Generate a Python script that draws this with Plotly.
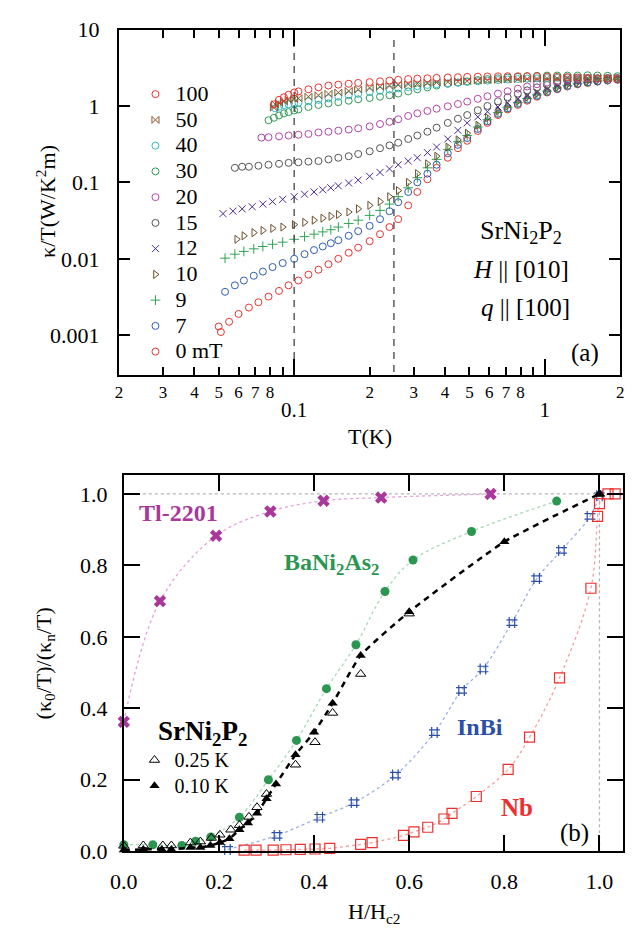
import math
import plotly.graph_objects as go

# ---------------- Panel (a): kappa/T vs T for several fields ----------------
T_100 = [0.083, 0.087, 0.091, 0.095, 0.1, 0.104, 0.114, 0.125, 0.137, 0.15, 0.165, 0.18, 0.2, 0.22, 0.24, 0.26, 0.285, 0.31, 0.34, 0.37, 0.41, 0.45, 0.49, 0.54, 0.59, 0.65, 0.71, 0.78, 0.85, 0.93, 1.02, 1.12, 1.23, 1.35, 1.48, 1.62, 1.78, 1.95]
K_100 = [1.05, 1.2, 1.3, 1.4, 1.5, 1.55, 1.65, 1.75, 1.85, 1.9, 1.95, 2.0, 2.05, 2.1, 2.15, 2.2, 2.25, 2.28, 2.3, 2.33, 2.36, 2.38, 2.4, 2.42, 2.43, 2.44, 2.45, 2.45, 2.45, 2.44, 2.42, 2.4, 2.38, 2.35, 2.32, 2.3, 2.28, 2.25]

T_50 = [0.083, 0.084, 0.087, 0.091, 0.095, 0.1, 0.104, 0.114, 0.125, 0.137, 0.15, 0.165, 0.18, 0.2, 0.22, 0.24, 0.26, 0.285, 0.31, 0.34, 0.37, 0.41, 0.45, 0.49, 0.54, 0.59, 0.65, 0.71, 0.78, 0.85, 0.93, 1.02, 1.12, 1.23, 1.35, 1.48, 1.62, 1.78, 1.95]
K_50 = [0.95, 1.05, 1.1, 1.15, 1.2, 1.23, 1.26, 1.32, 1.38, 1.44, 1.5, 1.57, 1.64, 1.72, 1.78, 1.83, 1.88, 1.92, 1.96, 2.0, 2.03, 2.06, 2.09, 2.12, 2.15, 2.18, 2.2, 2.22, 2.24, 2.26, 2.28, 2.3, 2.3, 2.32, 2.32, 2.32, 2.32, 2.3, 2.3]

T_40 = [0.084, 0.087, 0.091, 0.095, 0.1, 0.104, 0.114, 0.125, 0.137, 0.15, 0.165, 0.18, 0.2, 0.22, 0.24, 0.26, 0.285, 0.31, 0.34, 0.37, 0.41, 0.45, 0.49, 0.54, 0.59, 0.65, 0.71, 0.78, 0.85, 0.93, 1.02, 1.12, 1.23, 1.35, 1.48, 1.62, 1.78, 1.95]
K_40 = [0.93, 0.98, 1.02, 1.05, 1.08, 1.1, 1.15, 1.2, 1.26, 1.32, 1.38, 1.44, 1.52, 1.58, 1.64, 1.7, 1.76, 1.82, 1.88, 1.93, 1.98, 2.02, 2.06, 2.1, 2.14, 2.18, 2.22, 2.25, 2.28, 2.3, 2.32, 2.33, 2.33, 2.33, 2.32, 2.3, 2.3, 2.28]

T_30 = [0.079, 0.083, 0.087, 0.091, 0.095, 0.1, 0.104, 0.114, 0.125, 0.137, 0.15, 0.165, 0.18, 0.2, 0.22, 0.24, 0.26, 0.285, 0.31, 0.34, 0.37, 0.41, 0.45, 0.49, 0.54, 0.59, 0.65, 0.71, 0.78, 0.85, 0.93, 1.02, 1.12, 1.23, 1.35, 1.48, 1.62, 1.78, 1.95]
K_30 = [0.65, 0.7, 0.75, 0.8, 0.83, 0.87, 0.9, 0.97, 1.03, 1.08, 1.12, 1.17, 1.22, 1.27, 1.32, 1.38, 1.45, 1.55, 1.65, 1.75, 1.85, 1.95, 2.02, 2.1, 2.18, 2.25, 2.3, 2.35, 2.4, 2.45, 2.48, 2.5, 2.5, 2.5, 2.5, 2.52, 2.5, 2.48, 2.45]

T_20 = [0.074, 0.079, 0.087, 0.095, 0.104, 0.114, 0.125, 0.137, 0.15, 0.165, 0.18, 0.2, 0.22, 0.24, 0.26, 0.285, 0.31, 0.34, 0.37, 0.41, 0.45, 0.49, 0.54, 0.59, 0.65, 0.71, 0.78, 0.85, 0.93, 1.02, 1.12, 1.23, 1.35, 1.48, 1.62, 1.78, 1.95]
K_20 = [0.385, 0.39, 0.4, 0.41, 0.42, 0.43, 0.45, 0.46, 0.475, 0.49, 0.51, 0.54, 0.58, 0.62, 0.67, 0.74, 0.8, 0.86, 0.92, 0.99, 1.06, 1.14, 1.24, 1.34, 1.45, 1.56, 1.68, 1.8, 1.92, 2.02, 2.12, 2.2, 2.25, 2.3, 2.3, 2.32, 2.32]

T_15 = [0.058, 0.062, 0.066, 0.072, 0.079, 0.087, 0.095, 0.104, 0.114, 0.125, 0.137, 0.15, 0.165, 0.18, 0.2, 0.22, 0.24, 0.26, 0.285, 0.31, 0.34, 0.37, 0.41, 0.45, 0.49, 0.54, 0.59, 0.65, 0.71, 0.78, 0.85, 0.93, 1.02, 1.12, 1.23, 1.35, 1.48, 1.62, 1.78, 1.95]
K_15 = [0.155, 0.16, 0.16, 0.165, 0.17, 0.175, 0.18, 0.183, 0.187, 0.19, 0.2, 0.21, 0.22, 0.235, 0.255, 0.28, 0.305, 0.33, 0.37, 0.41, 0.46, 0.52, 0.6, 0.68, 0.76, 0.88, 1.0, 1.15, 1.3, 1.45, 1.6, 1.75, 1.88, 2.0, 2.1, 2.18, 2.25, 2.28, 2.3, 2.3]

T_12 = [0.052, 0.057, 0.062, 0.068, 0.075, 0.082, 0.09, 0.1, 0.11, 0.12, 0.13, 0.14, 0.15, 0.165, 0.18, 0.2, 0.22, 0.24, 0.26, 0.285, 0.31, 0.34, 0.37, 0.41, 0.45, 0.49, 0.54, 0.59, 0.65, 0.71, 0.78, 0.85, 0.93, 1.02, 1.12, 1.23, 1.35, 1.48, 1.62, 1.78, 1.95]
K_12 = [0.039, 0.042, 0.045, 0.048, 0.052, 0.056, 0.06, 0.065, 0.07, 0.075, 0.08, 0.085, 0.09, 0.098, 0.107, 0.12, 0.135, 0.15, 0.17, 0.19, 0.21, 0.245, 0.29, 0.37, 0.48, 0.6, 0.72, 0.84, 0.97, 1.1, 1.23, 1.36, 1.5, 1.65, 1.82, 1.98, 2.1, 2.2, 2.25, 2.28, 2.3]

T_10 = [0.059, 0.063, 0.069, 0.075, 0.082, 0.09, 0.1, 0.11, 0.12, 0.13, 0.14, 0.15, 0.165, 0.18, 0.2, 0.22, 0.24, 0.26, 0.285, 0.31, 0.34, 0.37, 0.41, 0.45, 0.49, 0.54, 0.59, 0.65, 0.71, 0.78, 0.85, 0.93, 1.02, 1.12, 1.23, 1.35, 1.48, 1.62, 1.78, 1.95]
K_10 = [0.018, 0.02, 0.022, 0.0235, 0.025, 0.026, 0.028, 0.03, 0.032, 0.034, 0.036, 0.038, 0.041, 0.045, 0.05, 0.056, 0.065, 0.078, 0.1, 0.13, 0.175, 0.22, 0.29, 0.36, 0.44, 0.56, 0.7, 0.86, 1.0, 1.15, 1.3, 1.45, 1.6, 1.76, 1.9, 2.02, 2.1, 2.16, 2.22, 2.28]

T_9 = [0.053, 0.058, 0.063, 0.069, 0.075, 0.082, 0.09, 0.1, 0.11, 0.12, 0.13, 0.14, 0.15, 0.165, 0.18, 0.2, 0.22, 0.24, 0.26, 0.285, 0.31, 0.34, 0.37, 0.41, 0.45, 0.49, 0.54, 0.59, 0.65, 0.71, 0.78, 0.85, 0.93, 1.02, 1.12, 1.23, 1.35, 1.48, 1.62, 1.78, 1.95]
K_9 = [0.0102, 0.0115, 0.0125, 0.0135, 0.0145, 0.0155, 0.0165, 0.018, 0.0195, 0.021, 0.0225, 0.024, 0.026, 0.029, 0.032, 0.037, 0.043, 0.052, 0.065, 0.085, 0.115, 0.155, 0.2, 0.27, 0.34, 0.41, 0.53, 0.66, 0.82, 0.96, 1.1, 1.25, 1.4, 1.56, 1.72, 1.86, 1.98, 2.06, 2.12, 2.18, 2.24]

T_7 = [0.053, 0.058, 0.063, 0.069, 0.075, 0.082, 0.09, 0.1, 0.11, 0.12, 0.13, 0.14, 0.15, 0.165, 0.18, 0.2, 0.22, 0.24, 0.26, 0.285, 0.31, 0.34, 0.37, 0.41, 0.45, 0.49, 0.54, 0.59, 0.65, 0.71, 0.78, 0.85, 0.93, 1.02, 1.12, 1.23, 1.35, 1.48, 1.62, 1.78, 1.95]
K_7 = [0.0037, 0.0045, 0.0052, 0.006, 0.0068, 0.0078, 0.0088, 0.010, 0.0115, 0.013, 0.0145, 0.016, 0.0175, 0.02, 0.023, 0.027, 0.033, 0.042, 0.055, 0.075, 0.1, 0.13, 0.17, 0.24, 0.31, 0.38, 0.5, 0.63, 0.79, 0.93, 1.07, 1.21, 1.36, 1.53, 1.68, 1.83, 1.95, 2.03, 2.1, 2.17, 2.22]

T_0 = [0.05, 0.051, 0.055, 0.06, 0.066, 0.072, 0.079, 0.087, 0.095, 0.104, 0.114, 0.125, 0.137, 0.15, 0.165, 0.18, 0.2, 0.22, 0.24, 0.26, 0.285, 0.31, 0.34, 0.37, 0.41, 0.45, 0.49, 0.54, 0.59, 0.65, 0.71, 0.78, 0.85, 0.93, 1.02, 1.12, 1.23, 1.35, 1.48, 1.62, 1.78, 1.95]
K_0 = [0.0013, 0.0011, 0.0015, 0.0019, 0.0023, 0.0027, 0.0032, 0.0038, 0.0045, 0.0052, 0.0062, 0.0072, 0.0085, 0.010, 0.012, 0.014, 0.017, 0.021, 0.026, 0.033, 0.05, 0.075, 0.11, 0.155, 0.21, 0.28, 0.35, 0.47, 0.6, 0.76, 0.9, 1.03, 1.17, 1.32, 1.5, 1.65, 1.8, 1.92, 2.0, 2.08, 2.15, 2.2]

field_labels = ["100", "50", "40", "30", "20", "15", "12", "10", "9", "7", "0 mT"]

dash_T = [0.1, 0.25]
dash_K = [0.00033, 7.5]

xt_vals = [0.02, 0.03, 0.04, 0.05, 0.06, 0.07, 0.08, 0.2, 0.3, 0.4, 0.5, 0.6, 0.7, 0.8, 2]
xt_text = ["2", "3", "4", "5", "6", "7", "8", "2", "3", "4", "5", "6", "7", "8", "2"]
xt_unlabelled = [0.09, 0.9]
xt_decades = [0.1, 1]
xt_decade_text = ["0.1", "1"]
yt_vals = [0.001, 0.01, 0.1, 1, 10]
yt_text = ["0.001", "0.01", "0.1", "1", "10"]

# ---------------- Panel (b): normalized residual kappa0/T vs H/Hc2 ----------------
H_tl = [0.0, 0.076, 0.194, 0.308, 0.42, 0.541, 0.771]
V_tl = [0.362, 0.70, 0.883, 0.951, 0.981, 0.99, 1.0]

H_ba = [0.0, 0.061, 0.122, 0.151, 0.183, 0.243, 0.304, 0.363, 0.426, 0.488, 0.549, 0.608, 0.731, 0.91]
V_ba = [0.018, 0.018, 0.016, 0.028, 0.04, 0.095, 0.2, 0.31, 0.455, 0.578, 0.727, 0.815, 0.895, 0.98]

H_025 = [0.0, 0.041, 0.082, 0.1, 0.14, 0.161, 0.184, 0.202, 0.225, 0.243, 0.263, 0.28, 0.3, 0.361, 0.402, 0.439, 0.498, 0.6, 1.0]
V_025 = [0.015, 0.016, 0.016, 0.016, 0.024, 0.027, 0.037, 0.046, 0.06, 0.073, 0.096, 0.123, 0.16, 0.242, 0.305, 0.387, 0.496, 0.665, 1.0]

H_010 = [0.0, 0.041, 0.08, 0.1, 0.14, 0.161, 0.182, 0.202, 0.222, 0.243, 0.261, 0.28, 0.3, 0.32, 0.361, 0.4, 0.439, 0.498, 0.6, 0.8, 1.0]
V_010 = [0.003, 0.005, 0.005, 0.005, 0.01, 0.01, 0.016, 0.024, 0.035, 0.06, 0.079, 0.106, 0.147, 0.188, 0.27, 0.333, 0.414, 0.548, 0.67, 0.866, 1.0]

H_inbi = [0.218, 0.322, 0.412, 0.484, 0.571, 0.653, 0.71, 0.755, 0.816, 0.868, 0.92, 0.98, 1.0]
V_inbi = [0.005, 0.044, 0.095, 0.136, 0.213, 0.332, 0.45, 0.51, 0.64, 0.763, 0.842, 0.937, 0.995]

H_nb = [0.253, 0.278, 0.314, 0.341, 0.371, 0.402, 0.433, 0.498, 0.522, 0.588, 0.61, 0.639, 0.673, 0.69, 0.741, 0.808, 0.853, 0.916, 0.982, 0.996, 1.0, 1.018, 1.033]
V_nb = [0.003, 0.003, 0.003, 0.004, 0.005, 0.006, 0.008, 0.019, 0.024, 0.044, 0.054, 0.067, 0.09, 0.106, 0.153, 0.229, 0.319, 0.485, 0.736, 0.937, 0.973, 1.0, 1.0]

ref_h_line_x = [0.04, 1.0]
ref_h_line_y = [1.0, 1.0]
ref_v_line_x = [1.0, 1.0]
ref_v_line_y = [0.0, 1.0]

bx_ticks = [0.0, 0.2, 0.4, 0.6, 0.8, 1.0]
by_ticks = [0.0, 0.2, 0.4, 0.6, 0.8, 1.0]

# ---------------- styles ----------------
FONT = "Liberation Serif, Times New Roman, serif"
W, Hh = 636, 944

top_styles = [
    ("circle-open", "#e8342f"),
    ("bowtie-open", "#85592c"),
    ("circle-open", "#33b9c6"),
    ("circle-open", "#2f9a53"),
    ("circle-open", "#b444a8"),
    ("circle-open", "#555555"),
    ("x-thin-open", "#4a2a9a"),
    ("triangle-right-open", "#6d4e2a"),
    ("cross-thin-open", "#2ea452"),
    ("circle-open", "#2d5bb5"),
    ("circle-open", "#e8342f"),
]
top_data = [(T_100, K_100), (T_50, K_50), (T_40, K_40), (T_30, K_30), (T_20, K_20), (T_15, K_15),
            (T_12, K_12), (T_10, K_10), (T_9, K_9), (T_7, K_7), (T_0, K_0)]

fig = go.Figure()

for tv in dash_T:
    fig.add_trace(go.Scatter(x=[tv, tv], y=dash_K, mode="lines", xaxis="x3", yaxis="y",
                             line=dict(color="#444444", width=1.3, dash="7px,6px"),
                             showlegend=False, hoverinfo="skip"))

order = list(range(len(top_data)))[::-1]
for i in order:
    t, k = top_data[i]
    sym, col = top_styles[i]
    fig.add_trace(go.Scatter(
        x=t, y=k, mode="markers", xaxis="x", yaxis="y",
        name="<span style='font-size:22px'>%s</span>" % field_labels[i],
        legend="legend", legendrank=i + 1,
        marker=dict(symbol=sym, size=7, color=col, line=dict(width=1, color=col)),
    ))

def dotted(x, y, col, width=1.3, shape="spline"):
    fig.add_trace(go.Scatter(x=x, y=y, mode="lines", xaxis="x2", yaxis="y2",
                             line=dict(color=col, width=width, dash="dot", shape=shape, smoothing=1.0),
                             showlegend=False, hoverinfo="skip", cliponaxis=False))

dotted(ref_h_line_x, ref_h_line_y, "#b5b5b5", shape="linear")
dotted(ref_v_line_x, ref_v_line_y, "#b5b5b5", shape="linear")
dotted(H_tl, V_tl, "#e7a2dc")
dotted(H_ba, V_ba, "#a6d9b5")
dotted(H_inbi, V_inbi, "#9db2e0")
dotted(H_nb, V_nb, "#f4a0a0")

fig.add_trace(go.Scatter(x=H_tl, y=V_tl, mode="markers", xaxis="x2", yaxis="y2", showlegend=False,
                         cliponaxis=False, marker=dict(symbol="x", size=11, color="#a8399a", line=dict(width=0))))
fig.add_trace(go.Scatter(x=H_ba, y=V_ba, mode="markers", xaxis="x2", yaxis="y2", showlegend=False,
                         cliponaxis=False, marker=dict(symbol="circle", size=9, color="#2a9650")))
fig.add_trace(go.Scatter(x=H_inbi, y=V_inbi, mode="markers", xaxis="x2", yaxis="y2", showlegend=False,
                         cliponaxis=False, marker=dict(symbol="hash-open", size=11, color="#2b4fa8",
                                                       line=dict(width=1.2, color="#2b4fa8"))))
fig.add_trace(go.Scatter(x=H_nb, y=V_nb, mode="markers", xaxis="x2", yaxis="y2", showlegend=False,
                         cliponaxis=False, marker=dict(symbol="square-open", size=10, color="#ec3030",
                                                       line=dict(width=1.2, color="#ec3030"))))
fig.add_trace(go.Scatter(x=H_010, y=V_010, mode="lines", xaxis="x2", yaxis="y2", showlegend=False,
                         line=dict(color="black", width=2.5, dash="6px,5px", shape="spline", smoothing=0.5),
                         hoverinfo="skip"))
fig.add_trace(go.Scatter(x=H_025, y=V_025, mode="markers", xaxis="x2", yaxis="y2", legend="legend2",
                         name="<span style='font-size:20px'>0.25 K</span>", cliponaxis=False,
                         marker=dict(symbol="triangle-up-open", size=9, color="black", line=dict(width=1, color="black"))))
fig.add_trace(go.Scatter(x=H_010, y=V_010, mode="markers", xaxis="x2", yaxis="y2", legend="legend2",
                         name="<span style='font-size:20px'>0.10 K</span>", cliponaxis=False,
                         marker=dict(symbol="triangle-up", size=9, color="black")))

axis_common = dict(showline=True, linecolor="black", linewidth=2, mirror="ticks", ticks="inside",
                   tickcolor="black", showgrid=False, zeroline=False)

def py(ypix):
    return 1 - ypix / Hh

def px(xpix):
    return xpix / W

xrange_top = [math.log10(0.02), math.log10(2)]

fig.update_layout(
    width=W, height=Hh, margin=dict(l=0, r=0, t=0, b=0),
    paper_bgcolor="white", plot_bgcolor="white",
    font=dict(family=FONT, size=22, color="black"),
    xaxis=dict(type="log", range=xrange_top, domain=[px(108), px(624)], anchor="y",
               tickmode="array", tickvals=xt_vals, ticktext=xt_text, ticklen=8, tickwidth=1.5,
               tickfont=dict(size=17, family=FONT),
               minor=dict(tickmode="array", tickvals=xt_unlabelled, ticks="inside", ticklen=8, tickwidth=1.5,
                          tickcolor="black", showgrid=False),
               **axis_common),
    xaxis3=dict(type="log", range=xrange_top, overlaying="x", anchor="y", side="bottom",
                tickmode="array", tickvals=xt_decades, ticktext=xt_decade_text,
                ticks="inside", ticklen=16, tickwidth=2, tickcolor="black", mirror="ticks",
                showline=False, showgrid=False, zeroline=False,
                tickfont=dict(size=21, family=FONT), ticklabelstandoff=20),
    yaxis=dict(type="log", range=[-3.522, 1.0], domain=[py(373), py(18)], anchor="x",
               tickmode="array", tickvals=yt_vals, ticktext=yt_text, ticklen=11, tickwidth=2,
               tickfont=dict(size=22, family=FONT), ticklabelstandoff=13, **axis_common),
    xaxis2=dict(range=[0, 1.05], domain=[px(113), px(627)], anchor="y2",
                tickmode="array", tickvals=bx_ticks, ticktext=["%.1f" % v for v in bx_ticks],
                ticklen=16, tickwidth=2, tickfont=dict(size=22, family=FONT), ticklabelstandoff=9,
                **axis_common),
    yaxis2=dict(range=[0, 1.052], domain=[py(862), py(476)], anchor="x2",
                tickmode="array", tickvals=by_ticks, ticktext=["%.1f" % v for v in by_ticks],
                ticklen=16, tickwidth=2, tickfont=dict(size=22, family=FONT), ticklabelstandoff=10,
                **axis_common),
    legend=dict(x=px(125), y=py(66), xanchor="left", yanchor="top", font=dict(size=17.5, family=FONT),
                bgcolor="rgba(0,0,0,0)", traceorder="normal", itemwidth=30, borderwidth=0),
    legend2=dict(x=px(124), y=py(750), xanchor="left", yanchor="top", font=dict(size=17.5, family=FONT),
                 bgcolor="rgba(0,0,0,0)", traceorder="normal", itemwidth=30, borderwidth=0),
)

ann = [
    dict(x=px(366), y=py(436), text="T(K)", font=dict(size=22)),
    dict(x=px(33), y=py(195), text="κ/T(W/K<sup>2</sup>m)", textangle=-90, font=dict(size=22)),
    dict(x=px(522), y=py(226), text="SrNi<sub>2</sub>P<sub>2</sub>", font=dict(size=26)),
    dict(x=px(522), y=py(264), text="<i>H</i> || [010]", font=dict(size=25)),
    dict(x=px(526), y=py(304), text="<i>q</i> || [100]", font=dict(size=25)),
    dict(x=px(588), y=py(350), text="(a)", font=dict(size=25)),
    dict(x=px(370), y=py(925), text="H/H<sub>c2</sub>", font=dict(size=22)),
    dict(x=px(32), y=py(669), text="(κ<sub>0</sub>/T)/(κ<sub>n</sub>/T)", textangle=-90, font=dict(size=22)),
    dict(x=px(169), y=py(515), text="Tl-2201", font=dict(size=24, color="#a8399a", weight="bold")),
    dict(x=px(327), y=py(567), text="BaNi<sub>2</sub>As<sub>2</sub>", font=dict(size=24, color="#2a9650", weight="bold")),
    dict(x=px(194), y=py(741), text="SrNi<sub>2</sub>P<sub>2</sub>", font=dict(size=27, color="black", weight="bold")),
    dict(x=px(480), y=py(734), text="InBi", font=dict(size=24, color="#2b4fa8", weight="bold")),
    dict(x=px(518), y=py(817), text="Nb", font=dict(size=25, color="#ec3030", weight="bold")),
    dict(x=px(577), y=py(843), text="(b)", font=dict(size=25)),
]
for a in ann:
    a.setdefault("xref", "paper")
    a.setdefault("yref", "paper")
    a.setdefault("showarrow", False)
    a.setdefault("xanchor", "center")
    a.setdefault("yanchor", "middle")
    a["font"].setdefault("family", FONT)
    a["font"].setdefault("color", "black")
fig.update_layout(annotations=ann)

fig.write_html("out.html")
